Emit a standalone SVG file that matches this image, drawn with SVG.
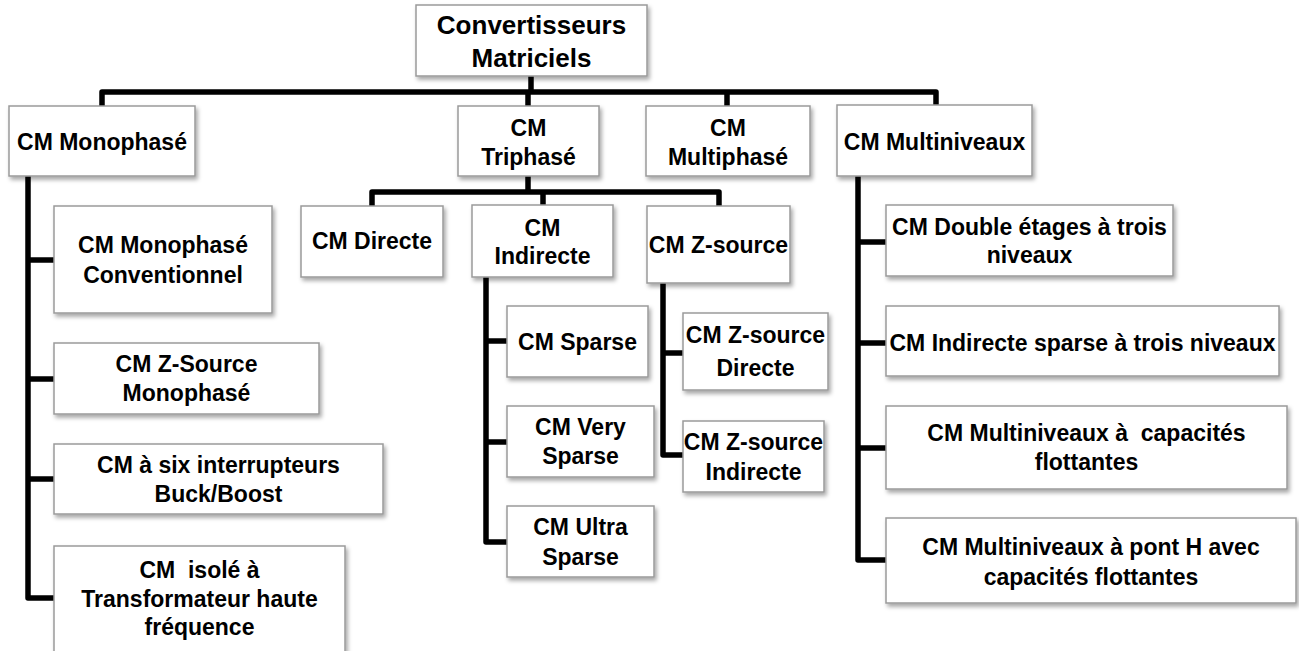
<svg xmlns="http://www.w3.org/2000/svg" width="1299" height="651" viewBox="0 0 1299 651">
<defs>
<filter id="sh" x="-10%" y="-10%" width="125%" height="130%">
<feDropShadow dx="2" dy="3" stdDeviation="2" flood-color="#000" flood-opacity="0.35"/>
</filter>
<style>
.box{fill:#fff;stroke:#9a9a9a;stroke-width:1.5;filter:url(#sh)}
.t{font-family:"Liberation Sans",Arial,sans-serif;font-weight:bold;font-size:23px;fill:#000;text-anchor:middle;white-space:pre}
.root{font-size:26px}
.c{fill:none;stroke:#000;stroke-width:5.5;stroke-linejoin:round;stroke-linecap:butt}
</style>
</defs>
<rect width="1299" height="651" fill="#fff"/>
<g id="connectors">
<path class="c" d="M531,76 V92"/>
<path class="c" d="M102,106 V92 H936 V105"/>
<path class="c" d="M528,92 V106"/>
<path class="c" d="M727,92 V106"/>
<path class="c" d="M528,176 V192"/>
<path class="c" d="M372,206 V192 H719 V206"/>
<path class="c" d="M543,192 V205"/>
<path class="c" d="M28,176 V598 H54"/>
<path class="c" d="M28,260 H54 M28,379 H54 M28,479 H54"/>
<path class="c" d="M486,277 V542 H507"/>
<path class="c" d="M486,341 H507 M486,442 H507"/>
<path class="c" d="M663,283 V455 H683"/>
<path class="c" d="M663,353 H683"/>
<path class="c" d="M858,176 V560 H886"/>
<path class="c" d="M858,242 H886 M858,343 H886 M858,448 H886"/>
</g>
<g id="root"><rect class="box" x="416" y="5" width="231" height="71"/><text class="t root" x="531.5" y="34">Convertisseurs</text><text class="t root" x="531.5" y="67">Matriciels</text></g>
<g id="mono"><rect class="box" x="9" y="106" width="186" height="70"/><text class="t" x="102" y="150">CM Monophasé</text></g>
<g id="tri"><rect class="box" x="458" y="106" width="141" height="70"/><text class="t" x="528.5" y="136">CM</text><text class="t" x="528.5" y="165">Triphasé</text></g>
<g id="multiph"><rect class="box" x="646" y="106" width="164" height="70"/><text class="t" x="728" y="136">CM</text><text class="t" x="728" y="165">Multiphasé</text></g>
<g id="multiniv"><rect class="box" x="837" y="105" width="195" height="71"/><text class="t" x="934.5" y="150">CM Multiniveaux</text></g>
<g id="directe"><rect class="box" x="301" y="206" width="142" height="71"/><text class="t" x="372" y="249">CM Directe</text></g>
<g id="indirecte"><rect class="box" x="472" y="205" width="141" height="72"/><text class="t" x="542.5" y="236">CM</text><text class="t" x="542.5" y="264">Indirecte</text></g>
<g id="zsource"><rect class="box" x="647" y="206" width="143" height="77"/><text class="t" x="718.5" y="253">CM Z-source</text></g>
<g id="sparse"><rect class="box" x="507" y="306" width="141" height="71"/><text class="t" x="577.5" y="350">CM Sparse</text></g>
<g id="verysparse"><rect class="box" x="507" y="406" width="147" height="71"/><text class="t" x="580.5" y="435">CM Very</text><text class="t" x="580.5" y="464">Sparse</text></g>
<g id="ultrasparse"><rect class="box" x="507" y="506" width="147" height="71"/><text class="t" x="580.5" y="535">CM Ultra</text><text class="t" x="580.5" y="565">Sparse</text></g>
<g id="zsdirecte"><rect class="box" x="683" y="313" width="145" height="77"/><text class="t" x="755.5" y="343">CM Z-source</text><text class="t" x="755.5" y="376">Directe</text></g>
<g id="zsindirecte"><rect class="box" x="683" y="421" width="141" height="71"/><text class="t" x="753.5" y="450">CM Z-source</text><text class="t" x="753.5" y="480">Indirecte</text></g>
<g id="conv"><rect class="box" x="54" y="206" width="218" height="107"/><text class="t" x="163" y="253">CM Monophasé</text><text class="t" x="163" y="283">Conventionnel</text></g>
<g id="zsmono"><rect class="box" x="54" y="343" width="265" height="71"/><text class="t" x="186.5" y="372">CM Z-Source</text><text class="t" x="186.5" y="401">Monophasé</text></g>
<g id="six"><rect class="box" x="54" y="444" width="329" height="70"/><text class="t" x="218.5" y="473">CM à six interrupteurs</text><text class="t" x="218.5" y="502">Buck/Boost</text></g>
<g id="isole"><rect class="box" x="54" y="546" width="291" height="110"/><text class="t" x="199.5" y="578">CM  isolé à</text><text class="t" x="199.5" y="607">Transformateur haute</text><text class="t" x="199.5" y="635">fréquence</text></g>
<g id="double"><rect class="box" x="886" y="205" width="287" height="71"/><text class="t" x="1029.5" y="235">CM Double étages à trois</text><text class="t" x="1029.5" y="263">niveaux</text></g>
<g id="indsparse"><rect class="box" x="886" y="306" width="393" height="70"/><text class="t" x="1082.5" y="351">CM Indirecte sparse à trois niveaux</text></g>
<g id="capflot"><rect class="box" x="886" y="406" width="401" height="83"/><text class="t" x="1086.5" y="441">CM Multiniveaux à  capacités</text><text class="t" x="1086.5" y="470">flottantes</text></g>
<g id="ponth"><rect class="box" x="886" y="518" width="410" height="85"/><text class="t" x="1091" y="555">CM Multiniveaux à pont H avec</text><text class="t" x="1091" y="585">capacités flottantes</text></g>
</svg>
